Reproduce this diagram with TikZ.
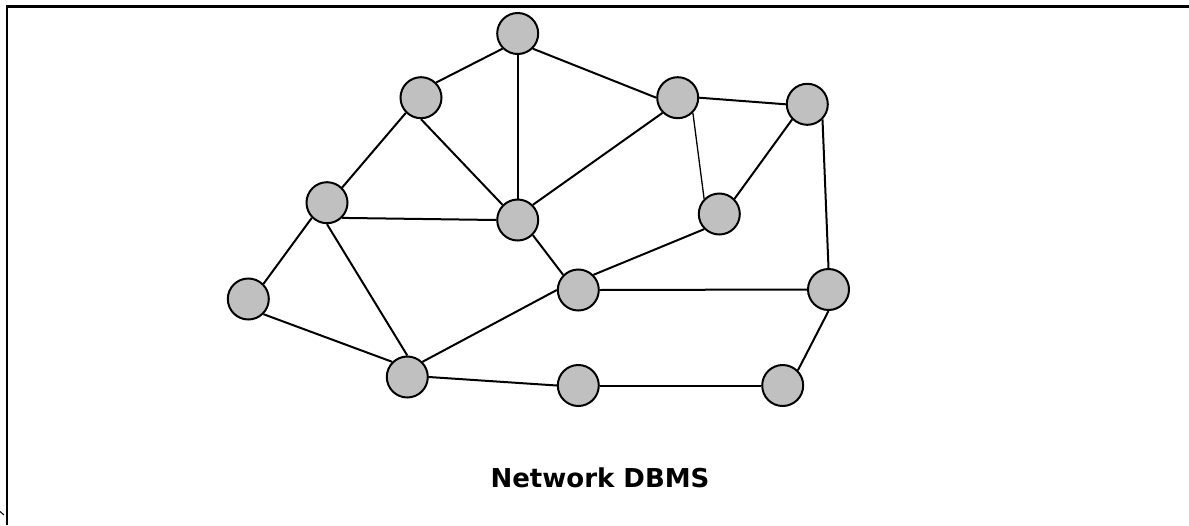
\documentclass[tikz,border=0pt]{standalone}
\usepackage{fontspec}
\newfontfamily\titlefont{DejaVu Sans}
\definecolor{nodegray}{HTML}{C0C0C0}
\begin{document}
\begin{tikzpicture}[x=1pt,y=-1pt,
  vtx/.style={circle,draw=black,fill=nodegray,line width=2pt,minimum size=41pt,inner sep=0pt},
  link/.style={draw=black,line width=2pt},
  thinlink/.style={draw=black,line width=1.3pt},
  frameline/.style={draw=black,line width=2.4pt}]
\useasboundingbox (0,0) rectangle (1189,525);
% frame (only top and left edges visible)
\coordinate (fr) at (1189,6.3);
\coordinate (fc) at (6.7,6.3);
\coordinate (fb) at (6.7,525);
\draw[frameline] (fr) -- (fc) -- (fb);
\coordinate (m1) at (0,511.5);
\coordinate (m2) at (4,515);
\draw[line width=1pt] (m1) -- (m2);
% nodes
\node[vtx] (A) at (517.7,33.5) {};
\node[vtx] (B) at (421,97.7) {};
\node[vtx] (C) at (677.7,97.7) {};
\node[vtx] (D) at (807.3,104.3) {};
\node[vtx] (E) at (327,202.7) {};
\node[vtx] (F) at (517.7,220) {};
\node[vtx] (G) at (719.3,214) {};
\node[vtx] (H) at (248.3,299) {};
\node[vtx] (I) at (578.3,290) {};
\node[vtx] (J) at (828.5,289.5) {};
\node[vtx] (K) at (407.3,377) {};
\node[vtx] (L) at (578.3,385.5) {};
\node[vtx] (M) at (782.7,385.5) {};
% edges
\draw[link] (A.-135) -- (B.45);
\draw[link] (A.-90) -- (F.90);
\draw[link] (A.-45) -- (C.180);
\draw[link] (B.-135) -- (E.45);
\draw[link] (B.-90) -- (F.135);
\draw[link] (C.-135) -- (F.45);
\draw[link] (C.0) -- (D.180);
\draw[thinlink] (C.-45) -- (G.135);
\draw[link] (D.-135) -- (G.45);
\draw[link] (D.-45) -- (J.90);
\draw[link] (E.-45) -- (F.180);
\draw[link] (E.-135) -- (H.45);
\draw[link] (E.-90) -- (K.90);
\draw[link] (F.-45) -- (I.135);
\draw[link] (G.-135) -- (I.45);
\draw[link] (H.-45) -- (K.135);
\draw[link] (I.180) -- (K.45);
\draw[link] (I.0) -- (J.180);
\draw[link] (J.-90) -- (M.45);
\draw[link] (K.0) -- (L.180);
\draw[link] (L.0) -- (M.180);
% title
\node[font=\titlefont\bfseries\fontsize{26}{31}\selectfont,anchor=base] (T) at (600,487) {Network DBMS};
\end{tikzpicture}
\end{document}
